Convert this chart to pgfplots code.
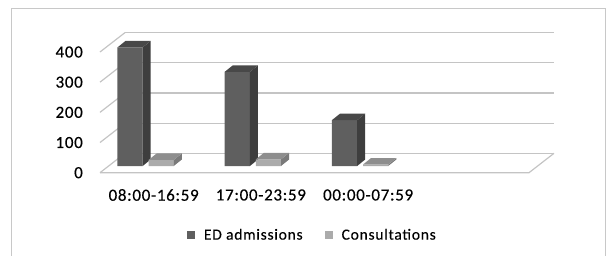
\documentclass[border=0pt]{standalone}
\usepackage{fontspec}
\setmainfont{Carlito}
\newfontfamily\tickfont[LetterSpace=4,FakeBold=0.3]{Carlito}
\newfontfamily\legfont[LetterSpace=5,FakeBold=0.3]{Carlito}
\usepackage{pgfplots}
\usepackage{pgfplotstable}
\pgfplotsset{compat=1.18}
\definecolor{edF}{HTML}{5F5F5F}
\definecolor{edS}{HTML}{3E3E3E}
\definecolor{edT}{HTML}{484848}
\definecolor{coF}{HTML}{ABABAB}
\definecolor{coS}{HTML}{7A7A7A}
\definecolor{coT}{HTML}{8E8E8E}
\definecolor{gridc}{HTML}{C4C4C4}
\definecolor{framec}{HTML}{C8C8C8}
\pgfplotstableread{
idx ed cons
0 393 20
1 312 22
2 152 5
}\data
\pgfplotsset{gridl/.style={gridc, line width=1.2bp, forget plot, mark=none}}
\begin{document}
\begin{tikzpicture}
\useasboundingbox (0,0) rectangle (607bp,-256bp);
\draw[framec, line width=1bp] (11.7bp,-8.3bp) rectangle (605.7bp,-270bp);
\begin{axis}[at={(100bp,-172.7bp)}, anchor=south west,
  width=429bp, height=120.7bp, scale only axis,
  xmin=0, xmax=4, ymin=0, ymax=400, clip=false,
  axis line style={draw=none}, tick style={draw=none},
  xtick={0.5,1.5,2.5}, xticklabels={08:00-16:59,17:00-23:59,00:00-07:59},
  ytick={0,100,200,300,400},
  /pgf/number format/assume math mode=true,
  tick label style={font=\tickfont\fontsize{17bp}{20bp}\selectfont, inner sep=0pt},
  yticklabel style={anchor=east, xshift=-17bp},
  xticklabel style={anchor=center, yshift=-22.3bp}]
\addplot[gridl] coordinates {(0.2331,64.3) (4.2331,64.3)};
\addplot[gridl] coordinates {(0.2331,164.3) (4.2331,164.3)};
\addplot[gridl] coordinates {(0.2331,264.3) (4.2331,264.3)};
\addplot[gridl] coordinates {(0.2331,364.3) (4.2331,364.3)};
\addplot[gridl] coordinates {(0.2331,464.3) (4.2331,464.3)};
\addplot[gridl] coordinates {(0,0) (0.2331,64.3)};
\addplot[gridl] coordinates {(0,100) (0.2331,164.3)};
\addplot[gridl] coordinates {(0,200) (0.2331,264.3)};
\addplot[gridl] coordinates {(0,300) (0.2331,364.3)};
\addplot[gridl] coordinates {(0,400) (0.2331,464.3)};
\addplot[gridl] coordinates {(0,0) (4,0) (4.2331,64.3)};
\end{axis}
\begin{axis}[at={(108.6bp,-166bp)}, anchor=south west,
  width=429bp, height=120.7bp, scale only axis,
  xmin=0, xmax=4, ymin=0, ymax=400, clip=false, hide axis,
  legend columns=2,
  legend style={draw=none, fill=none, at={(0.4727,-0.5717)}, anchor=center,
    font=\legfont\fontsize{15.5bp}{18bp}\selectfont,
    nodes={inner sep=0pt},
    /tikz/every even column/.append style={column sep=22bp}}]
\addplot[ybar, bar width=0.235, bar shift=0, fill=edF, draw=none,
  legend image code/.code={\fill[edF] (0bp,-4bp) rectangle (8bp,4bp); \path (17bp,0bp);}]
  table[x expr=\thisrow{idx}+0.2, y=ed]{\data};
\addlegendentry{ED admissions}
\pgfplotsinvokeforeach{0,1,2}{
  \pgfplotstablegetelem{#1}{ed}\of\data
  \pgfmathsetmacro\v{\pgfplotsretval}
  \pgfmathsetmacro\xa{#1+0.3175}
  \pgfmathsetmacro\xb{#1+0.3175+0.075}
  \pgfmathsetmacro\xc{#1+0.0825}
  \pgfmathsetmacro\xd{#1+0.0825+0.075}
  \pgfmathsetmacro\vt{\v+21.5}
  \addplot[fill=edS, draw=none, forget plot] coordinates {(\xa,0) (\xa,\v) (\xb,\vt) (\xb,21.5)};
  \addplot[fill=edT, draw=none, forget plot] coordinates {(\xc,\v) (\xa,\v) (\xb,\vt) (\xd,\vt)};
}
\addplot[ybar, bar width=0.235, bar shift=0, fill=coF, draw=none,
  legend image code/.code={\fill[coF] (0bp,-4bp) rectangle (8bp,4bp); \path (17bp,0bp);}]
  table[x expr=\thisrow{idx}+0.49, y=cons]{\data};
\addlegendentry{Consultations}
\pgfplotsinvokeforeach{0,1,2}{
  \pgfplotstablegetelem{#1}{cons}\of\data
  \pgfmathsetmacro\v{\pgfplotsretval}
  \pgfmathsetmacro\xa{#1+0.6075}
  \pgfmathsetmacro\xb{#1+0.6075+0.075}
  \pgfmathsetmacro\xc{#1+0.3725}
  \pgfmathsetmacro\xd{#1+0.3725+0.075}
  \pgfmathsetmacro\vt{\v+21.5}
  \addplot[fill=coS, draw=none, forget plot] coordinates {(\xa,0) (\xa,\v) (\xb,\vt) (\xb,21.5)};
  \addplot[fill=coT, draw=none, forget plot] coordinates {(\xc,\v) (\xa,\v) (\xb,\vt) (\xd,\vt)};
}
\end{axis}
\end{tikzpicture}
\end{document}
